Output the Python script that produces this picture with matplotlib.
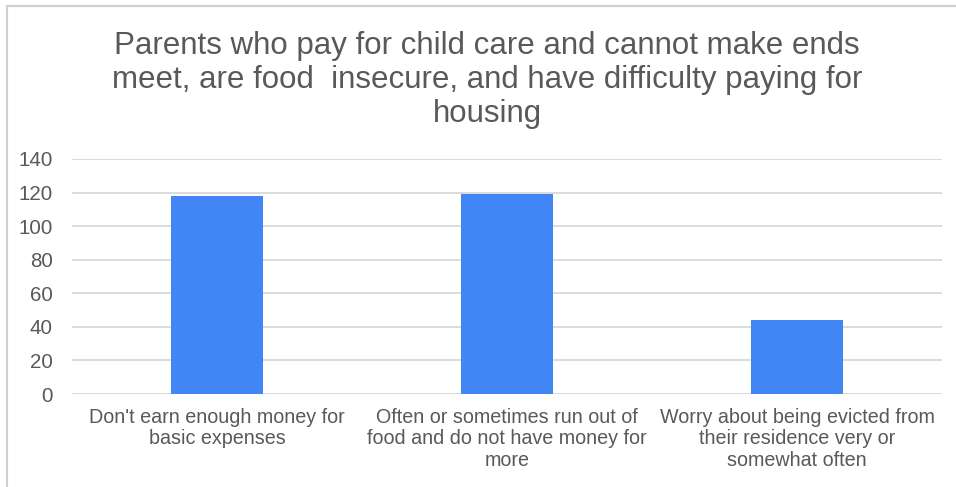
import matplotlib.pyplot as plt
from matplotlib.lines import Line2D
import numpy as np

plt.rcParams['font.family'] = ['Liberation Sans', 'DejaVu Sans']

title = ("Parents who pay for child care and cannot make ends\n"
         "meet, are food  insecure, and have difficulty paying for\n"
         "housing")
categories = ["Don't earn enough money for\nbasic expenses",
              "Often or sometimes run out of\nfood and do not have money for\nmore",
              "Worry about being evicted from\ntheir residence very or\nsomewhat often"]
values = [118, 119, 44]
yticks = [0, 20, 40, 60, 80, 100, 120, 140]

text_grey = '#595959'
bar_blue = '#4285F4'
grid_grey = '#d9d9d9'

fig = plt.figure(figsize=(9.56, 4.87), dpi=100)
ax = fig.add_axes([72 / 956, 1 - 394 / 487, 870 / 956, 235 / 487])

x = np.arange(len(categories))
ax.bar(x, values, width=0.315, color=bar_blue, zorder=3)

ax.set_xlim(-0.5, len(categories) - 0.5)
ax.set_ylim(0, 140)
ax.set_yticks(yticks)
ax.set_xticks(x)
ax.set_xticklabels(categories, fontsize=14.2, color=text_grey, linespacing=1.17)
ax.tick_params(axis='y', labelsize=14.8, colors=text_grey, length=0, pad=14)
ax.tick_params(axis='x', length=0, pad=10)
ax.grid(axis='y', color=grid_grey, linewidth=1.3, zorder=0)

for s in ax.spines.values():
    s.set_visible(False)

fig.text(487 / 956, 1 - 31 / 487, title, ha='center', va='top',
         fontsize=22.5, color=text_grey, linespacing=1.17)

# light border of the chart frame
fig.add_artist(Line2D([6.5 / 956, 6.5 / 956], [0, 1 - 5.5 / 487],
                      transform=fig.transFigure, color='#d0d0d0', linewidth=1.5))
fig.add_artist(Line2D([6.5 / 956, 1], [1 - 5.5 / 487, 1 - 5.5 / 487],
                      transform=fig.transFigure, color='#d0d0d0', linewidth=1.5))

fig.savefig('out.png', dpi=100)
